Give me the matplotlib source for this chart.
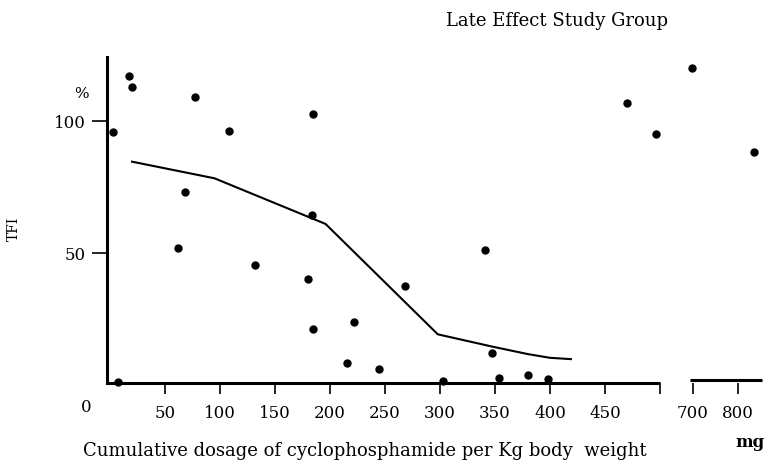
import numpy as np
import matplotlib
matplotlib.use("Agg")
import matplotlib.pyplot as plt

# ---------------- data ----------------
dose_mg = [17.5, 19.7, 77.3, 2.5, 108.5, 184.3, 68.2, 7.5, 61.5, 131.8, 179.7,
           184.3, 183.9, 222.1, 215.7, 244.8, 268.2, 340.9, 347.0, 303.0, 353.9,
           380.3, 398.5, 470.3, 496.6, 698.5, 835.0]
tfi_pct = [117.2, 113.0, 109.2, 95.9, 96.3, 102.7, 73.0, 1.25, 52.0, 45.5, 40.2,
           21.1, 64.4, 23.8, 8.4, 5.9, 37.5, 51.1, 12.0, 1.6, 2.8,
           3.8, 2.3, 106.7, 95.2, 120.2, 88.3]

curve_mg = [20, 95, 196, 298, 348, 380, 400, 419]
curve_pct = [84.6, 78.3, 61.0, 19.2, 14.5, 11.7, 10.3, 9.8]

xtick_vals = [50, 100, 150, 200, 250, 300, 350, 400, 450, 500, 700, 800]
xtick_labels = ["50", "100", "150", "200", "250", "300", "350", "400", "450", "", "700", "800"]
ytick_vals = [50, 100]
ytick_labels = ["50", "100"]

# broken dose scale: mg -> plotting units
MG_BP = np.array([-100.0, 0.0, 500.0, 693.0, 1100.0])
U_BP = np.array([-100.0, 0.0, 500.0, 527.1, 527.1 + 407 * 0.409])


def fwd(x):
    return np.interp(np.asarray(x, float), MG_BP, U_BP)


def inv(u):
    return np.interp(np.asarray(u, float), U_BP, MG_BP)


W, H = 768, 461
fig = plt.figure(figsize=(W / 100, H / 100), dpi=100)
# axes: px x 107..768, y 50..400
ax = fig.add_axes([107 / W, (H - 400) / H, (768 - 107) / W, 350 / H])
ax.set_xscale("function", functions=(fwd, inv))
ax.set_xlim(-2.73, float(inv(598.2)))
ax.set_ylim(-5.68, 126.9)

SERIF = ["DejaVu Serif"]
FS_TICK = 12
FS_TEXT = 13

for s in ["top", "right"]:
    ax.spines[s].set_visible(False)
ax.spines["left"].set_linewidth(2.2)
ax.spines["left"].set_bounds(0.8, 124.2)
ax.spines["bottom"].set_position(("data", 0.8))
ax.spines["bottom"].set_linewidth(0)

# x axis line pieces
ax.plot([-2.7, 500], [0.8, 0.8], color="black", lw=2.2, solid_capstyle="butt", clip_on=False)
ax.plot([693.5, 853], [1.9, 1.9], color="black", lw=2.2, solid_capstyle="butt", clip_on=False)

ax.set_xticks(xtick_vals)
ax.set_xticklabels(xtick_labels, family=SERIF, fontsize=FS_TICK)
ax.set_yticks(ytick_vals)
ax.set_yticklabels(ytick_labels, family=SERIF, fontsize=FS_TICK)
ax.tick_params(axis="x", direction="out", length=8, width=1.2, pad=8)
ax.tick_params(axis="y", direction="out", length=11, width=1.2, pad=4)
ax.minorticks_off()

ax.plot(curve_mg, curve_pct, color="black", lw=1.5)
ax.plot(dose_mg, tfi_pct, "o", color="black", ms=5, clip_on=False)


def ftext(x, y, s, **kw):
    fig.text(x / W, 1 - y / H, s, ha="center", va="center", family=SERIF, **kw)


ftext(557, 21, "Late Effect Study Group", fontsize=FS_TEXT)
ftext(365, 451, "Cumulative dosage of cyclophosphamide per Kg body  weight", fontsize=FS_TEXT)
ftext(750, 442, "mg", fontsize=12, fontweight="bold")
ftext(14, 229, "TFI", fontsize=10, rotation=90)
ftext(81, 94, "%", fontsize=11)
ftext(86, 407, "0", fontsize=FS_TICK)

fig.savefig("out.png", dpi=100)
